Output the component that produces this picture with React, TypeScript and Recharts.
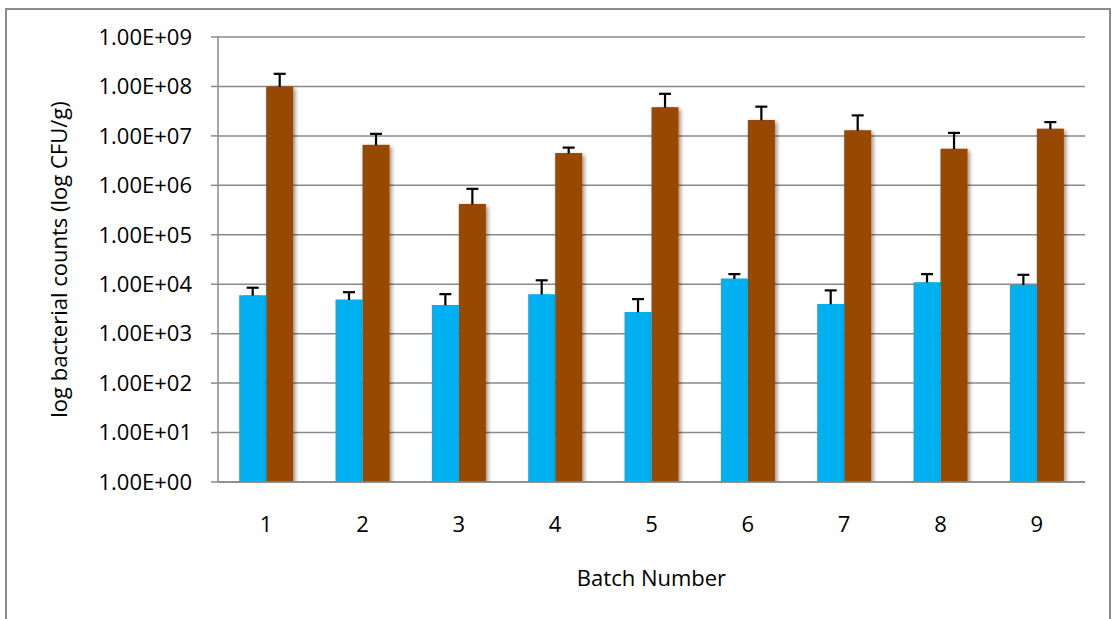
import React from 'react';
import { ComposedChart, Bar, XAxis, YAxis, CartesianGrid, ErrorBar, Label } from 'recharts';

const batches = ['1', '2', '3', '4', '5', '6', '7', '8', '9'];
const blueValues = [6000, 4900, 3800, 6300, 2750, 13000, 4000, 11000, 9800];
const blueUpper = [8500, 6900, 6300, 12000, 5000, 16000, 7500, 16000, 15500];
const brownValues = [1.0e8, 6.6e6, 4.2e5, 4.5e6, 3.8e7, 2.1e7, 1.3e7, 5.5e6, 1.4e7];
const brownUpper = [1.8e8, 1.1e7, 8.5e5, 5.8e6, 7.1e7, 3.9e7, 2.6e7, 1.15e7, 1.9e7];
const yTicks = [1, 1e1, 1e2, 1e3, 1e4, 1e5, 1e6, 1e7, 1e8, 1e9];
const boundaryTicks = [0, 1, 2, 3, 4, 5, 6, 7, 8, 9];

// plus-only error bars: the lower end is tucked just inside the bar and hidden by a cover
const data = batches.map((b, i) => ({
  batch: b,
  blue: blueValues[i],
  blueErr: [blueValues[i] - blueValues[i] / 1.15, blueUpper[i] - blueValues[i]],
  brown: brownValues[i],
  brownErr: [brownValues[i] - brownValues[i] / 1.15, brownUpper[i] - brownValues[i]],
}));

const FONT = '"Open Sans", sans-serif';
const FS = 22;
const GRID = '#8a8a8a';
const BLUE = '#00B0F0';
const BROWN = '#974806';

const fmt = (v: number) => {
  const [m, e] = v.toExponential(2).split('e');
  const sign = e[0] === '-' ? '-' : '+';
  const digits = e.replace(/[+-]/, '').padStart(2, '0');
  return `${m}E${sign}${digits}`;
};

const BrownShape = (p: any) => (
  <rect x={p.x} y={p.y} width={p.width} height={p.height} fill={p.fill} filter="url(#brownShadow)" />
);

const cover = (color: string) => (p: any) => (
  <rect x={p.x + p.width / 2 - 8} y={p.y + 0.4} width={16} height={7} fill={color} />
);

export default function App() {
  return (
    <div style={{ position: 'absolute', left: 0, top: 0, width: 1114, height: 619, overflow: 'hidden', background: '#fff' }}>
      <svg width={0} height={0} style={{ position: 'absolute' }}>
        <defs>
          <filter id="brownShadow" x="-30%" y="-10%" width="160%" height="120%">
            <feDropShadow dx={2} dy={2} stdDeviation={2.2} floodColor="#000" floodOpacity={0.45} />
          </filter>
        </defs>
      </svg>
      <div style={{ position: 'absolute', left: 5, top: 8, width: 1106, height: 700, border: '2px solid #8c8c8c', boxSizing: 'border-box' }} />
      <div style={{ position: 'absolute', left: 0, top: 0 }}>
        <ComposedChart
          width={1114}
          height={619}
          data={data}
          margin={{ top: 37, right: 29, left: 0, bottom: 0 }}
          barCategoryGap="22%"
          barGap={0}
        >
          <CartesianGrid vertical={false} stroke={GRID} strokeWidth={1.5} />
          <XAxis
            xAxisId="ticks"
            type="number"
            domain={[0, 9]}
            ticks={boundaryTicks}
            height={0}
            axisLine={false}
            tickLine={{ stroke: GRID, strokeWidth: 1.5 }}
            tickSize={8}
            tickFormatter={() => ''}
          />
          <XAxis
            dataKey="batch"
            height={137}
            axisLine={{ stroke: GRID, strokeWidth: 1.5 }}
            tickLine={false}
            tickMargin={28}
            tick={{ fill: '#000', fontSize: FS, fontFamily: FONT }}
          >
            <Label
              content={(props: any) => {
                const vb = props.viewBox;
                return (
                  <text x={vb.x + vb.width / 2} y={vb.y + 95} textAnchor="middle" dominantBaseline="central" fontSize={FS} fontFamily={FONT} fill="#000">
                    Batch Number
                  </text>
                );
              }}
            />
          </XAxis>
          <YAxis
            scale="log"
            domain={[1, 1e9]}
            ticks={yTicks}
            allowDataOverflow
            width={218}
            axisLine={{ stroke: GRID, strokeWidth: 1.5 }}
            tickLine={{ stroke: GRID, strokeWidth: 1.5 }}
            tickSize={7}
            tickMargin={19}
            tickFormatter={fmt}
            tick={{ fill: '#000', fontSize: FS, fontFamily: FONT }}
          >
            <Label
              content={(props: any) => {
                const vb = props.viewBox;
                const cy = vb.y + vb.height / 2;
                return (
                  <text x={58} y={cy} transform={`rotate(-90 58 ${cy})`} textAnchor="middle" dominantBaseline="central" fontSize={FS} fontFamily={FONT} fill="#000">
                    log bacterial counts (log CFU/g)
                  </text>
                );
              }}
            />
          </YAxis>
          <Bar dataKey="blue" fill={BLUE} isAnimationActive={false} label={cover(BLUE)}>
            <ErrorBar dataKey="blueErr" width={6} stroke="#000" strokeWidth={2.2} direction="y" />
          </Bar>
          <Bar dataKey="brown" fill={BROWN} isAnimationActive={false} shape={BrownShape} label={cover(BROWN)}>
            <ErrorBar dataKey="brownErr" width={6} stroke="#000" strokeWidth={2.2} direction="y" />
          </Bar>
        </ComposedChart>
      </div>
    </div>
  );
}
